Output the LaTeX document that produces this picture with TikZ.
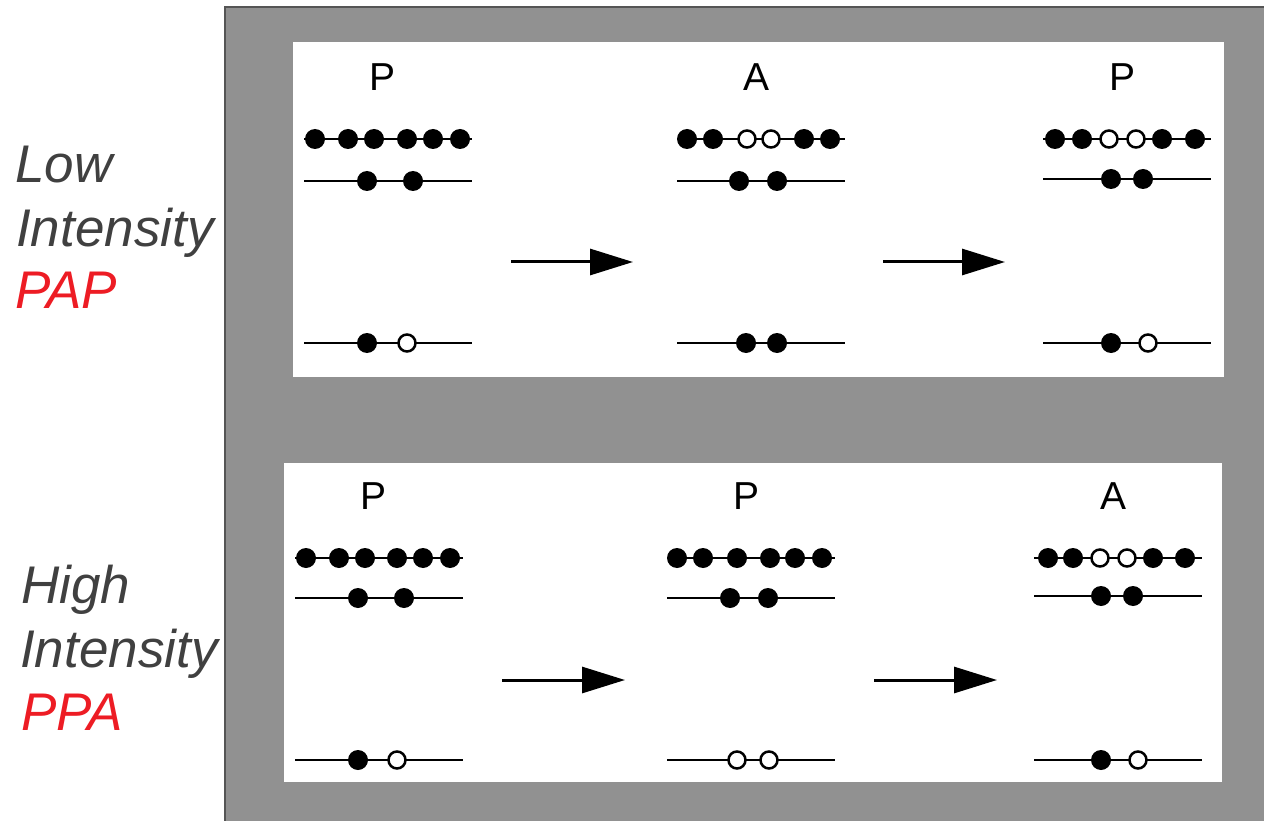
\documentclass[tikz,border=0pt]{standalone}
\usepackage{fontspec}
\setmainfont{Liberation Sans}
\usetikzlibrary{arrows.meta}

\definecolor{framegray}{HTML}{919191}
\definecolor{edgegray}{HTML}{555555}
\definecolor{labelgray}{HTML}{404040}
\definecolor{labelred}{HTML}{ED1C24}

\tikzset{
  elec/.style={circle, fill=black, inner sep=0pt, minimum size=20pt},
  hole/.style={circle, draw=black, fill=white, line width=2.5pt, inner sep=0pt, minimum size=17pt},
  level/.style={line width=2.7pt},
  trans/.style={line width=3pt, -{Triangle[length=43pt, width=26pt]}},
  statelbl/.style={inner sep=0pt, font=\fontsize{39}{40}\selectfont},
  sidelbl/.style={anchor=base west, inner sep=0pt, font=\fontsize{53}{63}\selectfont\itshape}
}

\begin{document}
\begin{tikzpicture}[x=1pt, y=-1pt]
  \def\linelen{168}

  \useasboundingbox (0,0) rectangle (1264,821);

  % Draw gray frame and the two white panels
  \draw[draw=edgegray, line width=2pt, fill=framegray] (225,7) rectangle (1290,850);
  \fill[white] (293,42) rectangle (1224,377);
  \fill[white] (284,463) rectangle (1222,782);

  % Side labels
  \node[sidelbl, text=labelgray] (low1) at (15,183) {Low};
  \node[sidelbl, text=labelgray] (low2) at (16,247) {Intensity};
  \node[sidelbl, text=labelred]  (low3) at (15,308) {PAP};
  \node[sidelbl, text=labelgray] (high1) at (21,603) {High};
  \node[sidelbl, text=labelgray] (high2) at (20,667) {Intensity};
  \node[sidelbl, text=labelred]  (high3) at (21,730) {PPA};

  % Draw the three levels and the letter of each state
  \foreach \s/\lx/\ty/\my/\by/\lbl in {
    a/304/139/181/343/P,
    b/677/139/181/343/A,
    c/1043/139/179/343/P,
    d/295/558/598/760/P,
    e/667/558/598/760/P,
    f/1034/558/596/760/A
  }{
    \draw[level] (\lx,\ty) -- ++(\linelen,0);
    \draw[level] (\lx,\my) -- ++(\linelen,0);
    \draw[level] (\lx,\by) -- ++(\linelen,0);
    \node[statelbl] (\s-lbl) at (\lx+79,\ty-62) {\lbl};
  }

  % Draw electrons and holes on each level
  \foreach \s/\pts/\y in {
    at/{315/elec,348/elec,374/elec,407/elec,433/elec,460/elec}/139,
    am/{367/elec,413/elec}/181,
    ab/{367/elec,407/hole}/343,
    bt/{687/elec,713/elec,747/hole,771/hole,804/elec,830/elec}/139,
    bm/{739/elec,777/elec}/181,
    bb/{746/elec,777/elec}/343,
    ct/{1055/elec,1082/elec,1109/hole,1136/hole,1162/elec,1195/elec}/139,
    cm/{1111/elec,1143/elec}/179,
    cb/{1111/elec,1148/hole}/343,
    dt/{306/elec,339/elec,365/elec,397/elec,423/elec,450/elec}/558,
    dm/{358/elec,404/elec}/598,
    db/{358/elec,397/hole}/760,
    et/{677/elec,703/elec,737/elec,770/elec,795/elec,822/elec}/558,
    em/{730/elec,768/elec}/598,
    eb/{737/hole,769/hole}/760,
    ft/{1048/elec,1073/elec,1100/hole,1127/hole,1153/elec,1185/elec}/558,
    fm/{1101/elec,1133/elec}/596,
    fb/{1101/elec,1138/hole}/760
  }{
    \foreach \x/\k [count=\n] in \pts
      \node[\k] (\s\n) at (\x,\y) {};
  }

  % Transitions between states
  \coordinate (ab1) at (511,262);
  \coordinate (ab2) at (633,262);
  \coordinate (bc1) at (883,262);
  \coordinate (bc2) at (1005,262);
  \coordinate (de1) at (502,680);
  \coordinate (de2) at (625,680);
  \coordinate (ef1) at (874,680);
  \coordinate (ef2) at (997,680);
  \draw[trans] (ab1) -- (ab2);
  \draw[trans] (bc1) -- (bc2);
  \draw[trans] (de1) -- (de2);
  \draw[trans] (ef1) -- (ef2);

\end{tikzpicture}
\end{document}
